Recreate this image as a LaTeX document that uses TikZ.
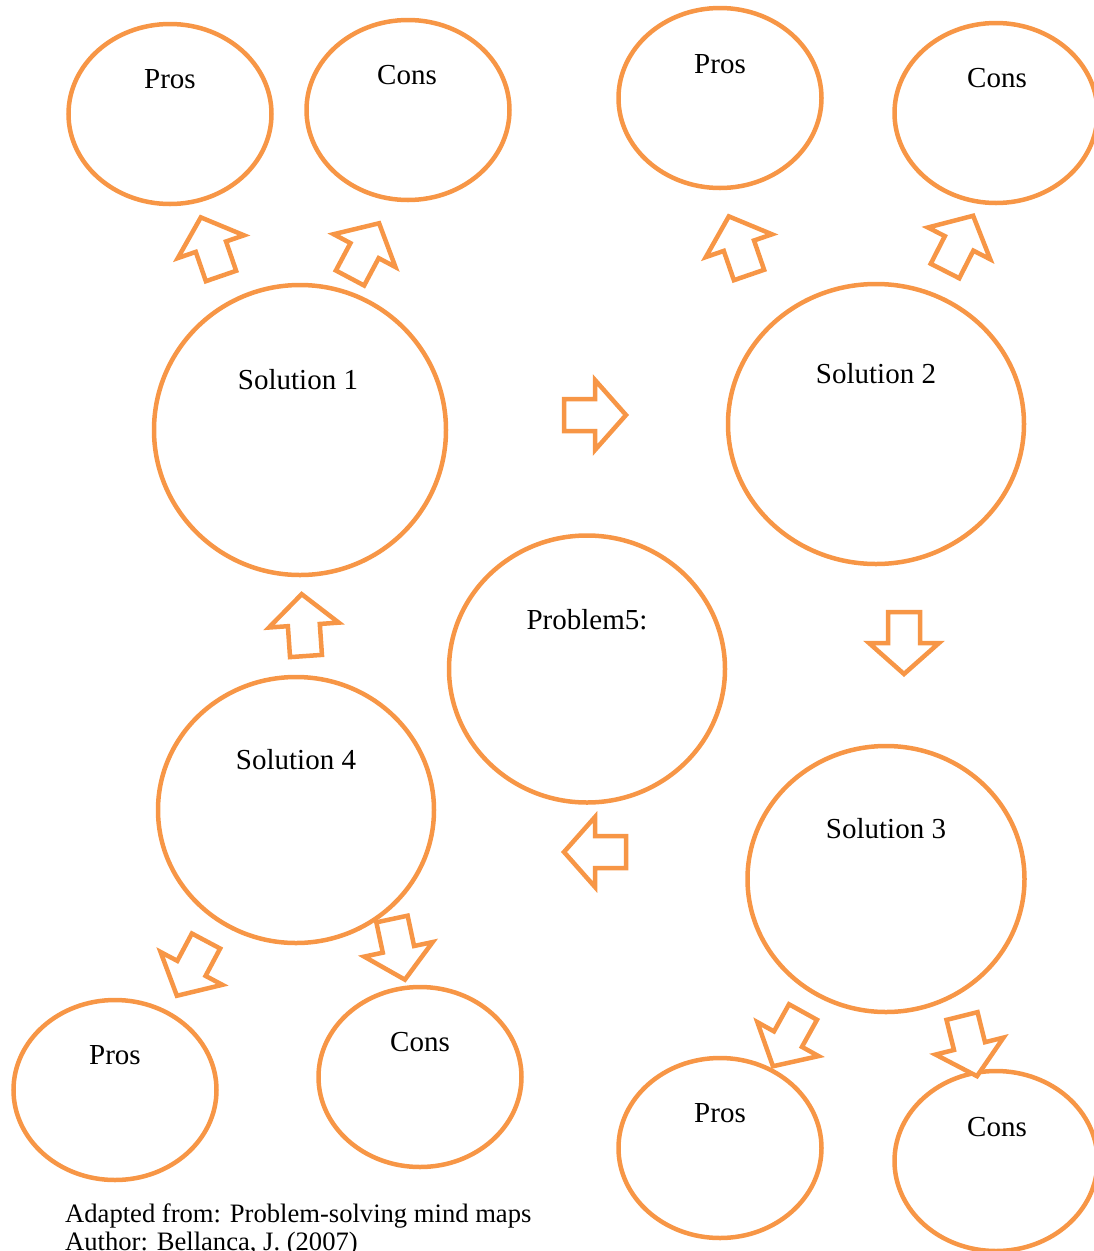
\documentclass[tikz,border=0pt]{standalone}
\usepackage{fontspec}
\setmainfont{Liberation Serif}
\usetikzlibrary{shapes.geometric}
\definecolor{accent}{HTML}{F79646}
\tikzset{
  bubble/.style={draw=accent, line width=4.5pt, ellipse, inner sep=0pt},
  lbl/.style={font=\fontsize{29}{34}\selectfont, inner sep=0pt},
  note/.style={font=\fontsize{26.6}{30}\selectfont, inner sep=0pt, anchor=base west},
  pics/blockarrow/.style={code={
    \draw[draw=accent, line width=4.5pt, line join=miter, fill=white]
      (-16,0) -- (-16,-31) -- (-35,-31) -- (0,-62) -- (35,-31) -- (16,-31) -- (16,0) -- cycle;
  }}
}
\begin{document}
\begin{tikzpicture}[x=1pt,y=-1pt]
\useasboundingbox (0,0) rectangle (1094,1251);
\clip (0,0) rectangle (1094,1251);
% small pros/cons ellipses
\node[bubble, minimum width=203, minimum height=180] (p1) at (170,114) {};
\node[bubble, minimum width=203, minimum height=180] (c1) at (408,110) {};
\node[bubble, minimum width=203, minimum height=180] (p2) at (720,98) {};
\node[bubble, minimum width=203, minimum height=180] (c2) at (996,113) {};
\node[bubble, minimum width=203, minimum height=180] (p4) at (115,1090) {};
\node[bubble, minimum width=203, minimum height=180] (c4) at (420,1077) {};
\node[bubble, minimum width=203, minimum height=180] (p3) at (720,1148) {};
\node[bubble, minimum width=203, minimum height=180] (c3) at (996,1161) {};
% solutions and problem
\node[bubble, minimum width=292, minimum height=290] (s1) at (300,430) {};
\node[bubble, minimum width=296, minimum height=280] (s2) at (876,424) {};
\node[bubble, minimum width=276, minimum height=267] (pr) at (587,669) {};
\node[bubble, minimum width=276, minimum height=266] (s4) at (296,810) {};
\node[bubble, minimum width=277, minimum height=266] (s3) at (886,879) {};
% labels
\node[lbl] (tp1) at (170,79) {Pros};
\node[lbl] (tc1) at (407,75) {Cons};
\node[lbl] (tp2) at (720,64) {Pros};
\node[lbl] (tc2) at (997,78) {Cons};
\node[lbl] (ts1) at (298,380) {Solution 1};
\node[lbl] (ts2) at (876,374) {Solution 2};
\node[lbl] (tpr) at (587,620) {Problem5:};
\node[lbl] (ts4) at (296,760) {Solution 4};
\node[lbl] (ts3) at (886,829) {Solution 3};
\node[lbl] (tp4) at (115,1055) {Pros};
\node[lbl] (tc4) at (420,1042) {Cons};
\node[lbl] (tp3) at (720,1113) {Pros};
\node[lbl] (tc3) at (997,1127) {Cons};
% block arrows
\pic[rotate=19] at (221,276) {blockarrow};
\pic[rotate=-28] at (350,278) {blockarrow};
\pic[rotate=19] at (749,275) {blockarrow};
\pic[rotate=-27] at (945,271) {blockarrow};
\pic[rotate=-90] at (564,415) {blockarrow};
\pic[rotate=180] at (904,612) {blockarrow};
\pic[rotate=4] at (306,656) {blockarrow};
\pic[rotate=90] at (626,852) {blockarrow};
\pic[rotate=152] at (206,941) {blockarrow};
\pic[rotate=192] at (392,919) {blockarrow};
\pic[rotate=151] at (803,1012) {blockarrow};
\pic[rotate=194] at (962,1016) {blockarrow};
% note
\node[note] (n1) at (65,1222) {Adapted from: Problem-solving mind maps};
\node[note] (n2) at (65,1250) {Author: Bellanca, J. (2007)};
\end{tikzpicture}
\end{document}
